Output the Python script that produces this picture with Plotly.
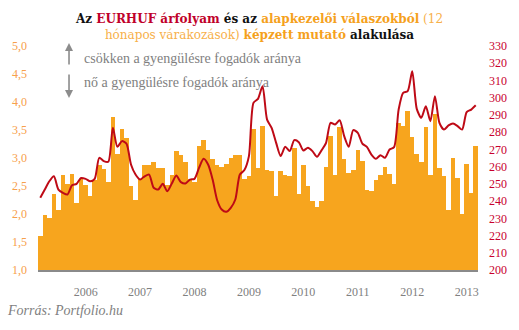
import pandas as pd
import plotly.graph_objects as go

# Monthly observations, March 2005 - March 2013
months = pd.date_range("2005-03-01", periods=97, freq="MS")

# Fund-manager survey indicator (left axis)
indicator = [
    1.60, 1.99, 1.92, 2.35, 2.07, 2.69, 2.53, 2.72, 2.19, 2.62,
    2.51, 2.33, 2.60, 2.87, 2.80, 2.57, 3.74, 3.08, 3.51, 3.36,
    2.50, 2.25, 2.62, 2.87, 2.87, 2.93, 2.82, 2.83, 2.51, 2.69,
    3.12, 3.06, 2.93, 2.62, 2.57, 3.22, 3.33, 3.15, 2.99, 2.88,
    2.84, 2.90, 3.00, 3.06, 3.05, 2.62, 2.68, 3.51, 2.82, 3.57,
    2.79, 2.77, 2.32, 2.77, 2.69, 2.68, 3.18, 2.35, 2.88, 2.50,
    2.24, 2.12, 2.24, 2.84, 3.39, 2.69, 3.56, 2.99, 2.74, 2.78,
    3.14, 2.94, 2.42, 2.41, 2.60, 2.69, 2.84, 2.71, 2.54, 3.62,
    3.58, 3.84, 3.37, 3.08, 2.93, 3.55, 2.69, 3.79, 2.82, 2.68,
    2.07, 3.00, 2.64, 2.00, 2.90, 2.37, 3.21,
]

# EUR/HUF exchange rate (right axis)
eurhuf = [
    241.9, 246.7, 251.5, 254.4, 246.7, 244.8, 243.8, 249.2, 250.0, 253.4,
    252.9, 251.5, 252.9, 265.1, 263.2, 262.8, 282.5, 271.5, 274.8, 273.4,
    261.2, 255.4, 252.5, 254.4, 255.4, 247.7, 246.7, 250.0, 245.7, 250.2,
    254.8, 251.0, 250.2, 252.5, 252.9, 259.3, 264.5, 261.2, 252.5, 240.5,
    235.1, 233.8, 236.1, 240.9, 255.4, 258.0, 266.1, 297.0, 299.3, 306.7,
    287.3, 282.5, 273.8, 266.1, 271.5, 269.0, 275.4, 274.2, 269.4, 270.9,
    269.0, 265.7, 269.4, 273.8, 285.4, 284.4, 286.9, 277.7, 271.5, 281.2,
    279.6, 273.4, 271.5, 267.0, 264.5, 266.6, 265.1, 269.9, 271.3, 293.1,
    302.8, 303.8, 315.4, 293.5, 288.3, 295.1, 286.4, 300.9, 285.4, 281.5,
    283.9, 285.0, 283.5, 281.5, 291.6, 293.1, 295.6,
]

year_labels = ["2006", "2007", "2008", "2009", "2010", "2011", "2012", "2013"]

idx = list(range(len(months)))
jan_pos = [i for i, m in enumerate(months) if m.month == 1]

FONT = "Georgia, 'Liberation Serif', serif"
TITLE_FONT = "Georgia, 'DejaVu Serif', serif"
ORANGE = "#F7A51E"
RED = "#BE0A16"
GREY = "#808080"

fig = go.Figure()
fig.add_trace(go.Bar(
    x=idx, y=indicator, marker=dict(color=ORANGE, line=dict(width=0)),
    base=0, yaxis="y", hoverinfo="skip",
))
fig.add_trace(go.Scatter(
    x=idx, y=eurhuf, mode="lines", yaxis="y2",
    line=dict(color=RED, width=2, shape="spline", smoothing=0.7),
    hoverinfo="skip",
))

title = (
    "<b>Az <span style='color:#C0002A'>EURHUF árfolyam</span> és az "
    "<span style='color:#F5A11C'>alapkezelői válaszokból</span></b> "
    "<span style='color:#F7B04A'>(12<br>hónapos várakozások)</span> "
    "<b><span style='color:#F5A11C'>képzett mutató</span> alakulása</b>"
)

fig.update_layout(
    width=519, height=330,
    margin=dict(l=38, r=41, t=46, b=60),
    paper_bgcolor="white", plot_bgcolor="white",
    showlegend=False, bargap=0,
    separators=", ",
    font=dict(family=FONT, color=GREY),
    title=dict(text=title, x=0.5, xanchor="center", y=0.929, yanchor="middle",
               yref="container", font=dict(family=TITLE_FONT, size=12, color="#111111")),
    xaxis=dict(
        range=[-0.5, len(idx) - 0.5], tickmode="array",
        tickvals=jan_pos, ticktext=year_labels,
        showgrid=False, zeroline=False, showline=True,
        linecolor="#8a8a8a", linewidth=1.5, ticks="",
        ticklabelstandoff=10, tickfont=dict(size=12, color=GREY, family=FONT),
    ),
    yaxis=dict(
        range=[1, 5], dtick=0.5, tickformat=".1f",
        showgrid=False, zeroline=False, showline=False, ticks="",
        ticklabelstandoff=10, tickfont=dict(size=12, color="#F7A04B", family=FONT),
    ),
    yaxis2=dict(
        range=[200, 330], dtick=10, overlaying="y", side="right",
        showgrid=False, zeroline=False, showline=False, ticks="",
        ticklabelstandoff=10, tickfont=dict(size=12, color="#C8002D", family=FONT),
    ),
)

# Arrow legend for the direction of the indicator
fig.add_annotation(xref="paper", yref="paper", x=0.0705, y=1.013, ax=0, ay=23,
                   text="", showarrow=True, arrowhead=2, arrowsize=1,
                   arrowwidth=1.6, arrowcolor="#8c8c8c", standoff=0)
fig.add_annotation(xref="paper", yref="paper", x=0.0705, y=0.768, ax=0, ay=-25,
                   text="", showarrow=True, arrowhead=2, arrowsize=1,
                   arrowwidth=1.6, arrowcolor="#8c8c8c", standoff=0)
fig.add_annotation(xref="paper", yref="paper", x=0.1, y=0.946, xanchor="left",
                   yanchor="middle", showarrow=False,
                   text="csökken a gyengülésre fogadók aránya",
                   font=dict(size=14, color="#7f7f7f", family=FONT))
fig.add_annotation(xref="paper", yref="paper", x=0.1, y=0.839, xanchor="left",
                   yanchor="middle", showarrow=False,
                   text="nő a gyengülésre fogadók aránya",
                   font=dict(size=14, color="#7f7f7f", family=FONT))

# Source line
fig.add_annotation(xref="paper", yref="paper", x=-0.075, y=-0.179, xanchor="left",
                   yanchor="middle", showarrow=False,
                   text="<i>Forrás: Portfolio.hu</i>",
                   font=dict(size=14, color="#7f7f7f", family=FONT))

fig.write_html("out.html")
